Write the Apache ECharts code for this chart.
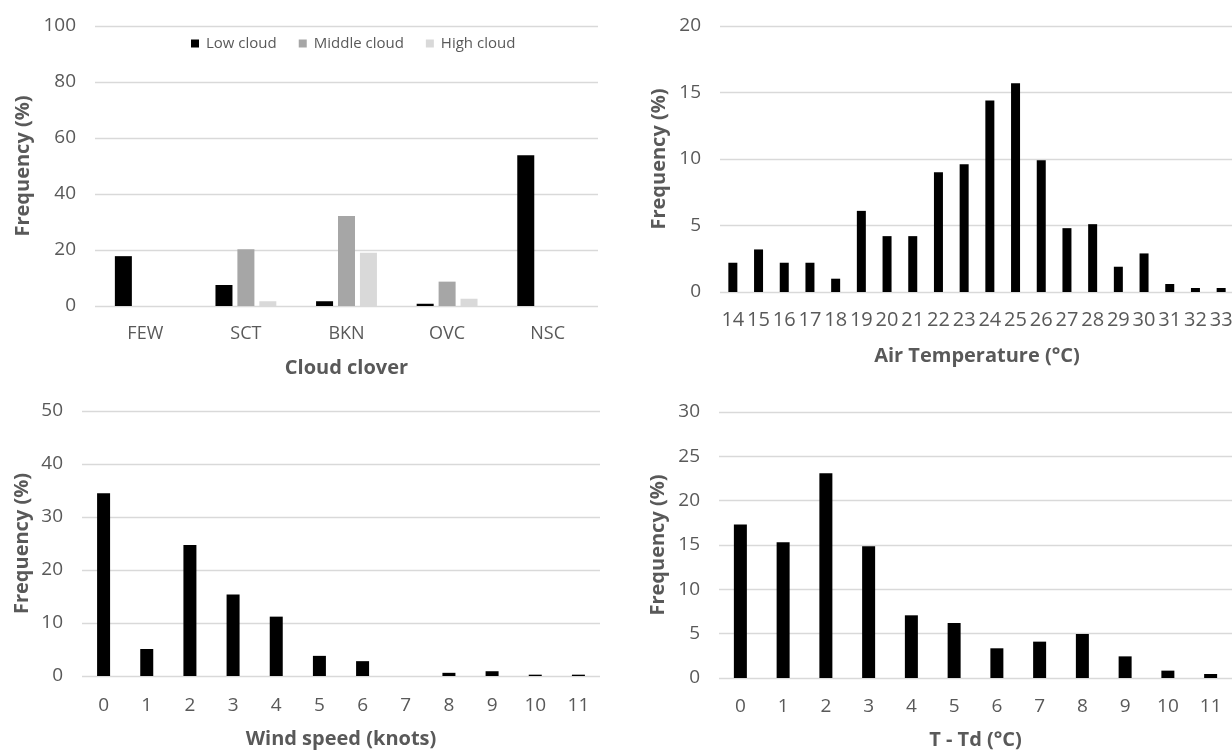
<!DOCTYPE html>
<html>
<head>
<meta charset="utf-8">
<script src="https://cdn.jsdelivr.net/npm/echarts@6/dist/echarts.min.js"></script>
<style>
html,body{margin:0;padding:0;background:#fff;}
#c{width:1232px;height:751px;}
</style>
</head>
<body>
<div id="c"></div>
<script>
// ---- Data ----
const cloudCategories = ['FEW', 'SCT', 'BKN', 'OVC', 'NSC'];
const lowCloud = [17.8, 7.5, 1.7, 0.8, 53.8];
const middleCloud = [0, 20.3, 32.1, 8.7, 0];
const highCloud = [0, 1.7, 19.0, 2.6, 0];

const tempCategories = ['14','15','16','17','18','19','20','21','22','23','24','25','26','27','28','29','30','31','32','33'];
const tempFreq = [2.2, 3.2, 2.2, 2.2, 1.0, 6.1, 4.2, 4.2, 9.0, 9.6, 14.4, 15.7, 9.9, 4.8, 5.1, 1.9, 2.9, 0.6, 0.3, 0.3];

const windCategories = ['0','1','2','3','4','5','6','7','8','9','10','11'];
const windFreq = [34.5, 5.1, 24.7, 15.4, 11.2, 3.8, 2.8, 0, 0.6, 0.9, 0.25, 0.25];

const dewCategories = ['0','1','2','3','4','5','6','7','8','9','10','11'];
const dewFreq = [17.3, 15.3, 23.1, 14.85, 7.07, 6.2, 3.35, 4.1, 4.96, 2.44, 0.83, 0.45];

// ---- Styles ----
const FONT = 'Open Sans';
const TXT = '#595959';
const GRIDC = '#d9d9d9';

function xAxis(gridIndex, data, name, margin, gap, fs) {
  return {
    type: 'category', gridIndex: gridIndex, data: data,
    name: name, nameLocation: 'middle', nameGap: gap,
    nameTextStyle: { color: TXT, fontFamily: FONT, fontSize: 20, fontWeight: 'bold' },
    axisLine: { show: false }, axisTick: { show: false },
    axisLabel: { color: TXT, fontFamily: FONT, fontSize: fs, interval: 0, margin: margin, hideOverlap: false }
  };
}
function yAxis(gridIndex, max, interval, gap) {
  return {
    type: 'value', gridIndex: gridIndex, min: 0, max: max, interval: interval,
    name: 'Frequency (%)', nameLocation: 'middle', nameGap: gap,
    nameTextStyle: { color: TXT, fontFamily: FONT, fontSize: 20, fontWeight: 'bold' },
    axisLine: { show: false }, axisTick: { show: false },
    axisLabel: { color: TXT, fontFamily: FONT, fontSize: 19, margin: 19 },
    splitLine: { lineStyle: { color: GRIDC, width: 1.3 } }
  };
}

const chart = echarts.init(document.getElementById('c'), null, { renderer: 'canvas' });
chart.setOption({
  animation: false,
  backgroundColor: '#fff',
  textStyle: { fontFamily: FONT },
  legend: {
    data: ['Low cloud', 'Middle cloud', 'High cloud'],
    left: 186, top: 31,
    itemWidth: 8, itemHeight: 8, itemGap: 22,
    icon: 'rect',
    textStyle: { color: TXT, fontFamily: FONT, fontSize: 15, padding: [0, 0, 0, 2] }
  },
  grid: [
    { left: 95, top: 26, width: 503, height: 280, outerBoundsMode: 'none' },
    { left: 720, top: 26, width: 514, height: 266, outerBoundsMode: 'none' },
    { left: 82, top: 411, width: 518, height: 265, outerBoundsMode: 'none' },
    { left: 719, top: 412, width: 513, height: 266, outerBoundsMode: 'none' }
  ],
  xAxis: [
    xAxis(0, cloudCategories, 'Cloud clover', 19, 52, 18),
    xAxis(1, tempCategories, 'Air Temperature (°C)', 18, 54, 20),
    xAxis(2, windCategories, 'Wind speed (knots)', 20, 53, 19),
    xAxis(3, dewCategories, 'T - Td (°C)', 19, 52, 19)
  ],
  yAxis: [
    yAxis(0, 100, 20, 62),
    yAxis(1, 20, 5, 51),
    yAxis(2, 50, 10, 50),
    yAxis(3, 30, 5, 51)
  ],
  series: [
    { name: 'Low cloud', type: 'bar', xAxisIndex: 0, yAxisIndex: 0, data: lowCloud,
      barWidth: 17, barGap: '29%', itemStyle: { color: '#000000' } },
    { name: 'Middle cloud', type: 'bar', xAxisIndex: 0, yAxisIndex: 0, data: middleCloud,
      barWidth: 17, barGap: '29%', itemStyle: { color: '#a6a6a6' } },
    { name: 'High cloud', type: 'bar', xAxisIndex: 0, yAxisIndex: 0, data: highCloud,
      barWidth: 17, barGap: '29%', itemStyle: { color: '#d9d9d9' } },
    { name: 'Air Temperature', type: 'bar', xAxisIndex: 1, yAxisIndex: 1, data: tempFreq,
      barWidth: 9, itemStyle: { color: '#000000' } },
    { name: 'Wind speed', type: 'bar', xAxisIndex: 2, yAxisIndex: 2, data: windFreq,
      barWidth: 13, itemStyle: { color: '#000000' } },
    { name: 'T - Td', type: 'bar', xAxisIndex: 3, yAxisIndex: 3, data: dewFreq,
      barWidth: 13, itemStyle: { color: '#000000' } }
  ]
});
</script>
</body>
</html>
